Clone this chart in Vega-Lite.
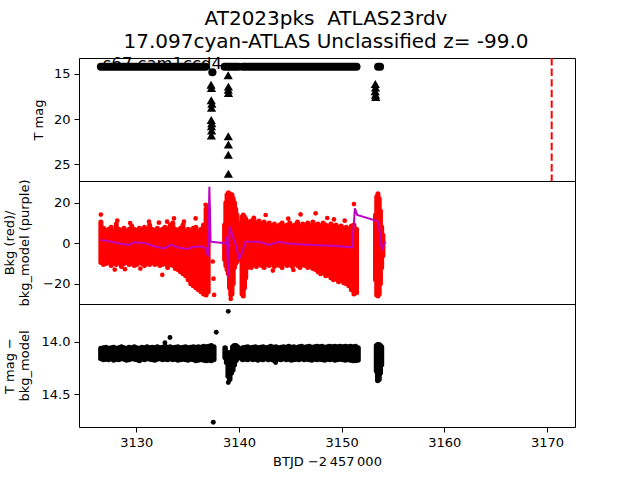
{
  "$schema": "https://vega.github.io/schema/vega-lite/v6.json",
  "padding": {"left": 2, "top": 8, "right": 5, "bottom": 5},
  "spacing": 0,
  "bounds": "flush",
  "title": {"text": ["AT2023pks\u00a0 ATLAS23rdv", "17.097cyan-ATLAS Unclassified z= -99.0"], "fontSize": 20, "fontWeight": "normal", "font": "DejaVu Sans", "color": "black", "anchor": "middle", "lineHeight": 23, "offset": 4, "dx": 37},
  "config": {
    "font": "DejaVu Sans",
    "view": {"stroke": "black", "strokeWidth": 1},
    "axis": {"labelFont": "DejaVu Sans", "titleFont": "DejaVu Sans", "labelFontSize": 13, "titleFontSize": 13, "labelColor": "black", "titleColor": "black", "tickColor": "black", "tickSize": 5, "tickWidth": 1, "labelPadding": 4, "grid": false, "domain": false, "titleFontWeight": "normal", "labelOverlap": false, "labelFlush": false}
  },
  "datasets": {
    "note": [{"t": 3126.75, "mag": 14.45, "label": "s67 cam1ccd4"}],
    "limit": [{"t": 3170.46}],
    "top_dots": [
      {"t": 3126.55, "t2": 3136.75, "mag": 14.19},
      {"t": 3137.4, "t2": 3137.42, "mag": 14.8},
      {"t": 3138.6, "t2": 3139.95, "mag": 14.19},
      {"t": 3140.35, "t2": 3151.45, "mag": 14.19},
      {"t": 3153.55, "t2": 3153.75, "mag": 14.19}
    ],
    "triangles": [
      {"t": 3137.28, "mag": 16.2}, {"t": 3137.32, "mag": 16.55}, {"t": 3137.3, "mag": 17.9}, {"t": 3137.36, "mag": 18.3}, {"t": 3137.33, "mag": 18.75},
      {"t": 3137.3, "mag": 20.1}, {"t": 3137.35, "mag": 20.45}, {"t": 3137.32, "mag": 20.8}, {"t": 3137.34, "mag": 21.25}, {"t": 3137.31, "mag": 21.8},
      {"t": 3138.95, "mag": 15.15}, {"t": 3138.97, "mag": 16.4}, {"t": 3138.96, "mag": 16.75}, {"t": 3138.98, "mag": 17.1},
      {"t": 3138.96, "mag": 21.9}, {"t": 3138.97, "mag": 22.8}, {"t": 3138.96, "mag": 23.95}, {"t": 3138.97, "mag": 26.05},
      {"t": 3153.28, "mag": 16.1}, {"t": 3153.3, "mag": 16.5}, {"t": 3153.27, "mag": 16.9}, {"t": 3153.3, "mag": 17.3}, {"t": 3153.32, "mag": 17.55}
    ],
    "red_band": [
      {"t": 3126.55, "lo": -9.5, "hi": 10.5}, {"t": 3126.8, "lo": -10.5, "hi": 7.5}, {"t": 3127.05, "lo": -10, "hi": 6.5}, {"t": 3127.3, "lo": -9.5, "hi": 7},
      {"t": 3127.55, "lo": -11, "hi": 8}, {"t": 3127.8, "lo": -10, "hi": 6}, {"t": 3128.05, "lo": -10.5, "hi": 9.5}, {"t": 3128.3, "lo": -9.5, "hi": 7},
      {"t": 3128.55, "lo": -11.5, "hi": 6.5}, {"t": 3128.8, "lo": -10, "hi": 7.5}, {"t": 3129.05, "lo": -9.5, "hi": 6}, {"t": 3129.3, "lo": -10.5, "hi": 7},
      {"t": 3129.55, "lo": -10, "hi": 8.5}, {"t": 3129.8, "lo": -11, "hi": 7}, {"t": 3130.05, "lo": -10.5, "hi": 6.5}, {"t": 3130.3, "lo": -9.5, "hi": 7.5},
      {"t": 3130.55, "lo": -10, "hi": 7}, {"t": 3130.8, "lo": -11, "hi": 8}, {"t": 3131.05, "lo": -10, "hi": 6.5}, {"t": 3131.3, "lo": -10.5, "hi": 9},
      {"t": 3131.55, "lo": -9.5, "hi": 7}, {"t": 3131.8, "lo": -10.5, "hi": 6.5}, {"t": 3132.05, "lo": -10, "hi": 7.5}, {"t": 3132.3, "lo": -11, "hi": 6.5},
      {"t": 3132.55, "lo": -10.5, "hi": 7}, {"t": 3132.8, "lo": -10, "hi": 8}, {"t": 3133.05, "lo": -12, "hi": 7}, {"t": 3133.3, "lo": -10.5, "hi": 9},
      {"t": 3133.55, "lo": -11, "hi": 10}, {"t": 3133.8, "lo": -12.5, "hi": 7}, {"t": 3134.05, "lo": -13, "hi": 6.5}, {"t": 3134.3, "lo": -14, "hi": 7.5},
      {"t": 3134.55, "lo": -15, "hi": 9}, {"t": 3134.8, "lo": -16, "hi": 6}, {"t": 3135.05, "lo": -18, "hi": 7}, {"t": 3135.3, "lo": -20, "hi": 6.5},
      {"t": 3135.55, "lo": -21, "hi": 7.5}, {"t": 3135.8, "lo": -22, "hi": 8}, {"t": 3136.05, "lo": -23, "hi": 6}, {"t": 3136.3, "lo": -24, "hi": 7},
      {"t": 3136.55, "lo": -25, "hi": 9}, {"t": 3136.8, "lo": -25.5, "hi": 17}, {"t": 3137.0, "lo": -24, "hi": 18},
      {"t": 3138.6, "lo": -8, "hi": 9}, {"t": 3138.72, "lo": -11, "hi": 20}, {"t": 3138.84, "lo": -13, "hi": 24}, {"t": 3138.96, "lo": -15, "hi": 25},
      {"t": 3139.08, "lo": -22, "hi": 24.5}, {"t": 3139.2, "lo": -25.5, "hi": 23}, {"t": 3139.32, "lo": -25, "hi": 24}, {"t": 3139.44, "lo": -20, "hi": 22},
      {"t": 3139.56, "lo": -12, "hi": 20}, {"t": 3139.68, "lo": -10, "hi": 17}, {"t": 3139.8, "lo": -9, "hi": 14}, {"t": 3139.92, "lo": -8, "hi": 10},
      {"t": 3140.3, "lo": -25, "hi": 13}, {"t": 3140.42, "lo": -26, "hi": 14}, {"t": 3140.54, "lo": -22, "hi": 13}, {"t": 3140.66, "lo": -17, "hi": 12},
      {"t": 3140.8, "lo": -12, "hi": 10.5},
      {"t": 3140.95, "lo": -11, "hi": 10.5}, {"t": 3141.2, "lo": -12, "hi": 11}, {"t": 3141.45, "lo": -10.5, "hi": 12.5}, {"t": 3141.7, "lo": -11.5, "hi": 10},
      {"t": 3141.95, "lo": -10, "hi": 11}, {"t": 3142.2, "lo": -11, "hi": 9.5}, {"t": 3142.45, "lo": -12, "hi": 10.5}, {"t": 3142.7, "lo": -10.5, "hi": 9},
      {"t": 3142.95, "lo": -11, "hi": 10}, {"t": 3143.2, "lo": -10, "hi": 8.5}, {"t": 3143.45, "lo": -11.5, "hi": 9.5}, {"t": 3143.7, "lo": -10.5, "hi": 8},
      {"t": 3143.95, "lo": -11, "hi": 9}, {"t": 3144.2, "lo": -12, "hi": 10}, {"t": 3144.45, "lo": -10, "hi": 8.5}, {"t": 3144.7, "lo": -11, "hi": 9},
      {"t": 3144.95, "lo": -10.5, "hi": 10}, {"t": 3145.2, "lo": -11.5, "hi": 8.5}, {"t": 3145.45, "lo": -10, "hi": 9}, {"t": 3145.7, "lo": -11, "hi": 10.5},
      {"t": 3145.95, "lo": -12, "hi": 8}, {"t": 3146.2, "lo": -10.5, "hi": 9.5}, {"t": 3146.45, "lo": -11, "hi": 9}, {"t": 3146.7, "lo": -12, "hi": 10},
      {"t": 3146.95, "lo": -11.5, "hi": 8.5}, {"t": 3147.2, "lo": -12.5, "hi": 10.5}, {"t": 3147.45, "lo": -13, "hi": 9}, {"t": 3147.7, "lo": -14, "hi": 9.5},
      {"t": 3147.95, "lo": -15, "hi": 8.5}, {"t": 3148.2, "lo": -14.5, "hi": 10}, {"t": 3148.45, "lo": -16, "hi": 9}, {"t": 3148.7, "lo": -15.5, "hi": 8},
      {"t": 3148.95, "lo": -17, "hi": 9.5}, {"t": 3149.2, "lo": -18, "hi": 8.5}, {"t": 3149.45, "lo": -17.5, "hi": 9}, {"t": 3149.7, "lo": -19, "hi": 8},
      {"t": 3149.95, "lo": -18.5, "hi": 8.5}, {"t": 3150.2, "lo": -19.5, "hi": 7.5}, {"t": 3150.45, "lo": -20, "hi": 8}, {"t": 3150.7, "lo": -21, "hi": 7},
      {"t": 3150.95, "lo": -23, "hi": 8.5}, {"t": 3151.2, "lo": -25, "hi": 9}, {"t": 3151.45, "lo": -24.5, "hi": 7},
      {"t": 3153.3, "lo": -18, "hi": 14}, {"t": 3153.42, "lo": -25.5, "hi": 23}, {"t": 3153.54, "lo": -26, "hi": 24.5}, {"t": 3153.66, "lo": -25, "hi": 22},
      {"t": 3153.78, "lo": -20, "hi": 16}, {"t": 3153.9, "lo": -12, "hi": 8}, {"t": 3154.02, "lo": -6, "hi": 4}
    ],
    "red_pts": [
      {"t": 3126.55, "v": 14.2}, {"t": 3128.15, "v": 11.2}, {"t": 3131.24, "v": 10.7}, {"t": 3133.0, "v": 10.7}, {"t": 3133.67, "v": 12.3},
      {"t": 3134.64, "v": 10.7}, {"t": 3132.53, "v": -15.6}, {"t": 3135.78, "v": 12.3}, {"t": 3136.75, "v": 19}, {"t": 3137.45, "v": -9},
      {"t": 3137.52, "v": -17.5}, {"t": 3137.58, "v": -25.5}, {"t": 3142.6, "v": 14}, {"t": 3146.0, "v": 14.3}, {"t": 3147.47, "v": 14.8},
      {"t": 3149.25, "v": 11.8}, {"t": 3151.2, "v": 19.4}, {"t": 3139.2, "v": -27.5},
      {"t": 3127.9, "v": -13}, {"t": 3129.4, "v": 10}, {"t": 3130.4, "v": -12.5}, {"t": 3132.2, "v": 10.2}, {"t": 3128.9, "v": -12.8},
      {"t": 3143.3, "v": -13.5}, {"t": 3144.8, "v": 12.2}, {"t": 3145.3, "v": -13.2}, {"t": 3148.6, "v": 12.5}, {"t": 3150.3, "v": 11.2}
    ],
    "model": [
      {"t": 3126.53, "v": 1.6}, {"t": 3127.1, "v": 1.2}, {"t": 3127.63, "v": 0.8}, {"t": 3128.61, "v": -0.3}, {"t": 3129.29, "v": -0.8},
      {"t": 3129.78, "v": 0.5}, {"t": 3130.91, "v": 0.0}, {"t": 3131.89, "v": -1.7}, {"t": 3132.7, "v": -2.5}, {"t": 3133.35, "v": -0.8},
      {"t": 3134.16, "v": -2.2}, {"t": 3134.97, "v": -2.8}, {"t": 3135.6, "v": -1.7}, {"t": 3136.5, "v": -1.7}, {"t": 3136.8, "v": -2.5},
      {"t": 3136.98, "v": -6.6}, {"t": 3137.12, "v": 28.0}, {"t": 3137.24, "v": 0.8}, {"t": 3138.7, "v": 0.0}, {"t": 3138.83, "v": 3.3},
      {"t": 3138.96, "v": -16.5}, {"t": 3139.09, "v": 8.2}, {"t": 3139.35, "v": 4.1}, {"t": 3139.68, "v": -0.8}, {"t": 3140.0, "v": -7.4},
      {"t": 3140.17, "v": -6.6}, {"t": 3140.32, "v": -4.1}, {"t": 3140.65, "v": 0.8}, {"t": 3141.95, "v": 0.8}, {"t": 3142.92, "v": -0.8},
      {"t": 3143.9, "v": 0.8}, {"t": 3144.55, "v": 0.0}, {"t": 3145.84, "v": -0.5}, {"t": 3147.14, "v": -0.8}, {"t": 3149.09, "v": -1.2},
      {"t": 3151.03, "v": -2.0}, {"t": 3151.29, "v": 17.3}, {"t": 3151.52, "v": 14.0}, {"t": 3153.47, "v": 11.0}, {"t": 3153.65, "v": 9},
      {"t": 3153.8, "v": 0.0}, {"t": 3153.97, "v": -3.3}, {"t": 3154.12, "v": 0.0}, {"t": 3154.32, "v": 0.5}
    ],
    "blk_band": [
      {"t": 3126.55, "lo": 14.065, "hi": 14.16}, {"t": 3126.8, "lo": 14.06, "hi": 14.17}, {"t": 3127.05, "lo": 14.055, "hi": 14.165}, {"t": 3127.3, "lo": 14.065, "hi": 14.17},
      {"t": 3127.55, "lo": 14.06, "hi": 14.16}, {"t": 3127.8, "lo": 14.055, "hi": 14.175}, {"t": 3128.05, "lo": 14.065, "hi": 14.165}, {"t": 3128.3, "lo": 14.06, "hi": 14.17},
      {"t": 3128.55, "lo": 14.05, "hi": 14.16}, {"t": 3128.8, "lo": 14.06, "hi": 14.165}, {"t": 3129.05, "lo": 14.065, "hi": 14.175}, {"t": 3129.3, "lo": 14.055, "hi": 14.17},
      {"t": 3129.55, "lo": 14.06, "hi": 14.16}, {"t": 3129.8, "lo": 14.05, "hi": 14.165}, {"t": 3130.05, "lo": 14.06, "hi": 14.17}, {"t": 3130.3, "lo": 14.065, "hi": 14.18},
      {"t": 3130.55, "lo": 14.055, "hi": 14.165}, {"t": 3130.8, "lo": 14.06, "hi": 14.17}, {"t": 3131.05, "lo": 14.05, "hi": 14.16}, {"t": 3131.3, "lo": 14.06, "hi": 14.165},
      {"t": 3131.55, "lo": 14.055, "hi": 14.17}, {"t": 3131.8, "lo": 14.06, "hi": 14.175}, {"t": 3132.05, "lo": 14.05, "hi": 14.165}, {"t": 3132.3, "lo": 14.06, "hi": 14.16},
      {"t": 3132.55, "lo": 14.055, "hi": 14.17}, {"t": 3132.8, "lo": 14.045, "hi": 14.165}, {"t": 3133.05, "lo": 14.055, "hi": 14.17}, {"t": 3133.3, "lo": 14.05, "hi": 14.16},
      {"t": 3133.55, "lo": 14.06, "hi": 14.17}, {"t": 3133.8, "lo": 14.055, "hi": 14.165}, {"t": 3134.05, "lo": 14.05, "hi": 14.175}, {"t": 3134.3, "lo": 14.06, "hi": 14.17},
      {"t": 3134.55, "lo": 14.055, "hi": 14.165}, {"t": 3134.8, "lo": 14.05, "hi": 14.17}, {"t": 3135.05, "lo": 14.06, "hi": 14.175}, {"t": 3135.3, "lo": 14.055, "hi": 14.165},
      {"t": 3135.55, "lo": 14.05, "hi": 14.17}, {"t": 3135.8, "lo": 14.055, "hi": 14.18}, {"t": 3136.05, "lo": 14.05, "hi": 14.175}, {"t": 3136.3, "lo": 14.055, "hi": 14.17},
      {"t": 3136.55, "lo": 14.045, "hi": 14.175}, {"t": 3136.8, "lo": 14.05, "hi": 14.18}, {"t": 3137.05, "lo": 14.045, "hi": 14.175}, {"t": 3137.3, "lo": 14.04, "hi": 14.18},
      {"t": 3137.55, "lo": 14.05, "hi": 14.17},
      {"t": 3138.65, "lo": 14.06, "hi": 14.15}, {"t": 3138.8, "lo": 14.1, "hi": 14.2}, {"t": 3138.95, "lo": 14.14, "hi": 14.33}, {"t": 3139.1, "lo": 14.13, "hi": 14.36},
      {"t": 3139.25, "lo": 14.1, "hi": 14.3}, {"t": 3139.4, "lo": 14.05, "hi": 14.27}, {"t": 3139.55, "lo": 14.04, "hi": 14.22}, {"t": 3139.7, "lo": 14.04, "hi": 14.18},
      {"t": 3139.85, "lo": 14.05, "hi": 14.16},
      {"t": 3140.35, "lo": 14.06, "hi": 14.17}, {"t": 3140.6, "lo": 14.055, "hi": 14.165}, {"t": 3140.85, "lo": 14.05, "hi": 14.17}, {"t": 3141.1, "lo": 14.06, "hi": 14.16},
      {"t": 3141.35, "lo": 14.055, "hi": 14.17}, {"t": 3141.6, "lo": 14.05, "hi": 14.165}, {"t": 3141.85, "lo": 14.06, "hi": 14.175}, {"t": 3142.1, "lo": 14.055, "hi": 14.165},
      {"t": 3142.35, "lo": 14.05, "hi": 14.17}, {"t": 3142.6, "lo": 14.06, "hi": 14.16}, {"t": 3142.85, "lo": 14.055, "hi": 14.17}, {"t": 3143.1, "lo": 14.045, "hi": 14.165},
      {"t": 3143.35, "lo": 14.055, "hi": 14.175}, {"t": 3143.6, "lo": 14.05, "hi": 14.17}, {"t": 3143.85, "lo": 14.06, "hi": 14.165}, {"t": 3144.1, "lo": 14.055, "hi": 14.17},
      {"t": 3144.35, "lo": 14.05, "hi": 14.16}, {"t": 3144.6, "lo": 14.055, "hi": 14.17}, {"t": 3144.85, "lo": 14.045, "hi": 14.165}, {"t": 3145.1, "lo": 14.055, "hi": 14.175},
      {"t": 3145.35, "lo": 14.05, "hi": 14.17}, {"t": 3145.6, "lo": 14.06, "hi": 14.165}, {"t": 3145.85, "lo": 14.05, "hi": 14.17}, {"t": 3146.1, "lo": 14.045, "hi": 14.16},
      {"t": 3146.35, "lo": 14.055, "hi": 14.17}, {"t": 3146.6, "lo": 14.05, "hi": 14.165}, {"t": 3146.85, "lo": 14.045, "hi": 14.17}, {"t": 3147.1, "lo": 14.055, "hi": 14.175},
      {"t": 3147.35, "lo": 14.05, "hi": 14.165}, {"t": 3147.6, "lo": 14.045, "hi": 14.17}, {"t": 3147.85, "lo": 14.05, "hi": 14.165}, {"t": 3148.1, "lo": 14.045, "hi": 14.17},
      {"t": 3148.35, "lo": 14.055, "hi": 14.175}, {"t": 3148.6, "lo": 14.05, "hi": 14.165}, {"t": 3148.85, "lo": 14.045, "hi": 14.17}, {"t": 3149.1, "lo": 14.05, "hi": 14.165},
      {"t": 3149.35, "lo": 14.045, "hi": 14.175}, {"t": 3149.6, "lo": 14.05, "hi": 14.17}, {"t": 3149.85, "lo": 14.045, "hi": 14.165}, {"t": 3150.1, "lo": 14.05, "hi": 14.17},
      {"t": 3150.35, "lo": 14.045, "hi": 14.175}, {"t": 3150.6, "lo": 14.05, "hi": 14.17}, {"t": 3150.85, "lo": 14.045, "hi": 14.175}, {"t": 3151.1, "lo": 14.05, "hi": 14.18},
      {"t": 3151.35, "lo": 14.045, "hi": 14.18}, {"t": 3151.6, "lo": 14.06, "hi": 14.175},
      {"t": 3153.4, "lo": 14.04, "hi": 14.28}, {"t": 3153.52, "lo": 14.03, "hi": 14.37}, {"t": 3153.64, "lo": 14.03, "hi": 14.36}, {"t": 3153.76, "lo": 14.04, "hi": 14.3},
      {"t": 3153.88, "lo": 14.05, "hi": 14.22}
    ],
    "blk_pts": [
      {"t": 3133.28, "v": 13.96}, {"t": 3132.79, "v": 14.01}, {"t": 3137.79, "v": 13.91}, {"t": 3138.96, "v": 13.71},
      {"t": 3137.5, "v": 14.77}, {"t": 3138.96, "v": 14.39}, {"t": 3143.57, "v": 14.2}
    ]
  },
  "vconcat": [
    {
      "width": 496, "height": 123,
      "layer": [
        {
          "data": {"name": "note"},
          "mark": {"type": "text", "align": "left", "baseline": "alphabetic", "fontSize": 16.4, "font": "DejaVu Sans", "color": "black"},
          "encoding": {
            "x": {"field": "t", "type": "quantitative", "scale": {"domain": [3124.42, 3172.73], "nice": false, "zero": false}, "axis": null},
            "y": {"field": "mag", "type": "quantitative", "scale": {"domain": [13.23, 26.85], "reverse": true, "nice": false, "zero": false},
                  "axis": {"title": "T mag", "values": [15, 20, 25], "titleX": -37, "titleY": 61.5, "titleBaseline": "alphabetic", "titleAlign": "center", "titleAngle": -90}},
            "text": {"field": "label"}
          }
        },
        {
          "data": {"name": "limit"},
          "mark": {"type": "rule", "color": "#ff0000", "strokeWidth": 2, "strokeDash": [7.4, 3.2]},
          "encoding": {"x": {"field": "t", "type": "quantitative"}}
        },
        {
          "data": {"name": "top_dots"},
          "mark": {"type": "rule", "color": "black", "strokeWidth": 8, "strokeCap": "round", "clip": true},
          "encoding": {"x": {"field": "t", "type": "quantitative"}, "x2": {"field": "t2"}, "y": {"field": "mag", "type": "quantitative"}}
        },
        {
          "data": {"name": "triangles"},
          "mark": {"type": "point", "shape": "triangle-up", "filled": true, "color": "black", "size": 85, "opacity": 1, "clip": true},
          "encoding": {"x": {"field": "t", "type": "quantitative"}, "y": {"field": "mag", "type": "quantitative"}}
        }
      ]
    },
    {
      "width": 496, "height": 123,
      "layer": [
        {
          "data": {"name": "red_band"},
          "mark": {"type": "rule", "color": "#ff0000", "strokeWidth": 5, "strokeCap": "round", "clip": true},
          "encoding": {
            "x": {"field": "t", "type": "quantitative", "scale": {"domain": [3124.42, 3172.73], "nice": false, "zero": false}, "axis": null},
            "y": {"field": "lo", "type": "quantitative", "scale": {"domain": [-30.0, 30.8], "nice": false, "zero": false},
                  "axis": {"title": ["Bkg (red)/", "bkg_model (purple)"], "values": [-20, 0, 20], "titleX": -66, "titleY": 61.5, "titleBaseline": "alphabetic", "titleAlign": "center", "titleAngle": -90, "titleLineHeight": 15.5}},
            "y2": {"field": "hi"}
          }
        },
        {
          "data": {"name": "red_pts"},
          "mark": {"type": "point", "shape": "circle", "filled": true, "color": "#ff0000", "size": 22, "opacity": 1, "clip": true},
          "encoding": {"x": {"field": "t", "type": "quantitative"}, "y": {"field": "v", "type": "quantitative"}}
        },
        {
          "data": {"name": "model"},
          "mark": {"type": "line", "color": "#bf00bf", "strokeWidth": 2, "clip": true},
          "encoding": {"x": {"field": "t", "type": "quantitative"}, "y": {"field": "v", "type": "quantitative"}}
        }
      ]
    },
    {
      "width": 496, "height": 123,
      "layer": [
        {
          "data": {"name": "blk_band"},
          "mark": {"type": "rule", "color": "black", "strokeWidth": 5.5, "strokeCap": "round", "clip": true},
          "encoding": {
            "x": {"field": "t", "type": "quantitative", "scale": {"domain": [3124.42, 3172.73], "nice": false, "zero": false},
                  "axis": {"title": "BTJD \u22122\u2009457\u2009000", "values": [3130, 3140, 3150, 3160, 3170], "format": "d", "titlePadding": 6}},
            "y": {"field": "lo", "type": "quantitative", "scale": {"domain": [13.64, 14.815], "reverse": true, "nice": false, "zero": false},
                  "axis": {"title": ["T mag \u2212", "bkg_model"], "values": [14.0, 14.5], "format": ".1f", "titleX": -66, "titleY": 61.5, "titleBaseline": "alphabetic", "titleAlign": "center", "titleAngle": -90, "titleLineHeight": 15.5}},
            "y2": {"field": "hi"}
          }
        },
        {
          "data": {"name": "blk_pts"},
          "mark": {"type": "point", "shape": "circle", "filled": true, "color": "black", "size": 24, "opacity": 1, "clip": true},
          "encoding": {"x": {"field": "t", "type": "quantitative"}, "y": {"field": "v", "type": "quantitative"}}
        }
      ]
    }
  ]
}
